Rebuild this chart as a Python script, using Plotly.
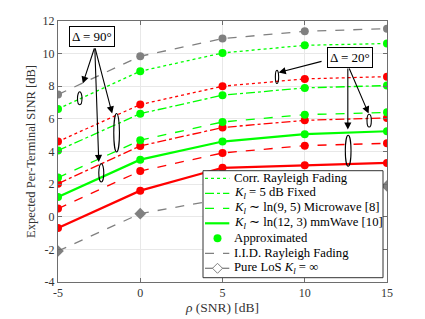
import plotly.graph_objects as go

snr = [-5, 0, 5, 10, 15]

# Delta = 90 deg (green) series
corr90 = [6.61, 8.92, 10.04, 10.51, 10.62]
k5_90 = [4.06, 6.32, 7.45, 7.90, 8.04]
micro90 = [2.40, 4.69, 5.81, 6.26, 6.40]
mmw90 = [1.21, 3.50, 4.61, 5.06, 5.24]

# Delta = 20 deg (red) series
corr20 = [4.61, 6.88, 8.00, 8.45, 8.59]
k5_20 = [2.03, 4.34, 5.47, 5.91, 6.06]
micro20 = [0.50, 2.80, 3.91, 4.36, 4.50]
mmw20 = [-0.69, 1.60, 3.00, 3.16, 3.30]

# reference curves
iid = [7.49, 9.84, 10.92, 11.37, 11.53]
los = [-2.10, 0.19, 1.10, 1.60, 1.89]

names = ["Corr. Rayleigh Fading",
         "<i>K<sub>l</sub></i> = 5 dB Fixed",
         "<i>K<sub>l</sub></i> ∼ ln(9, 5) Microwave [8]",
         "<i>K<sub>l</sub></i> ∼ ln(12, 3) mmWave [10]",
         "Approximated",
         "I.I.D. Rayleigh Fading",
         "Pure LoS <i>K<sub>l</sub></i> = ∞"]

GREEN = "#00ff00"
RED = "#ff0000"
GRAY = "#808080"
FONT = "Liberation Serif"

W, H = 425, 319
ML, MR, MT, MB = 58, 38, 21, 37
PW, PH = W - ML - MR, H - MT - MB


def px(xp):
    return (xp - ML) / PW


def py(yp):
    return (H - MB - yp) / PH


fig = go.Figure()

styles = [("dot", 1.3), ("dashdot", 1.3), ("dash", 1.3), ("solid", 2.2)]
green_series = [corr90, k5_90, micro90, mmw90]
red_series = [corr20, k5_20, micro20, mmw20]

for i, (dash, w) in enumerate(styles):
    fig.add_trace(go.Scatter(x=snr, y=red_series[i], mode="lines",
                             line=dict(color=RED, dash=dash, width=w)))
    fig.add_trace(go.Scatter(x=snr, y=green_series[i], mode="lines",
                             line=dict(color=GREEN, dash=dash, width=w)))

for s in red_series:
    fig.add_trace(go.Scatter(x=snr, y=s, mode="markers",
                             marker=dict(color=RED, size=8)))
for s in green_series:
    fig.add_trace(go.Scatter(x=snr, y=s, mode="markers",
                             marker=dict(color=GREEN, size=8)))

fig.add_trace(go.Scatter(x=snr, y=iid, mode="lines+markers",
                         line=dict(color=GRAY, dash="dash", width=1.3),
                         marker=dict(color=GRAY, size=8)))
fig.add_trace(go.Scatter(x=snr, y=los, mode="lines+markers",
                         line=dict(color=GRAY, dash="dash", width=1.3),
                         marker=dict(color=GRAY, size=9, symbol="diamond")))

# ellipses marking groups
ellipses = [(-3.815, -3.542, 6.865, 7.66),
            (-1.610, -1.264, 3.971, 6.325),
            (-2.521, -2.217, 2.131, 3.259),
            (8.214, 8.414, 8.164, 8.98),
            (12.467, 12.813, 3.094, 4.994),
            (13.785, 14.046, 5.503, 6.282)]
for x0, x1, y0, y1 in ellipses:
    fig.add_shape(type="circle", xref="x", yref="y", x0=x0, x1=x1, y0=y0, y1=y1,
                  line=dict(color="black", width=1.1))

# arrows (head, tail)
arrows = [((-3.493, 8.164), (-2.764, 10.408)),
          ((-1.707, 6.325), (-2.764, 10.408)),
          ((-2.521, 3.357), (-2.764, 10.408)),
          ((8.414, 8.839), (11.112, 9.55)),
          ((12.618, 5.344), (12.618, 9.182)),
          ((13.882, 6.325), (12.667, 9.182))]
for (hx, hy), (tx, ty) in arrows:
    fig.add_annotation(x=hx, y=hy, ax=tx, ay=ty, xref="x", yref="y",
                       axref="x", ayref="y", text="", showarrow=True,
                       arrowhead=2, arrowsize=1.3, arrowwidth=1.1,
                       arrowcolor="black", standoff=0, startstandoff=0)

fig.add_annotation(x=-2.904, y=11.06, xref="x", yref="y", text="Δ = 90°",
                   showarrow=False, bgcolor="white", bordercolor="black",
                   borderwidth=1, borderpad=2,
                   font=dict(family=FONT, size=13, color="black"))
fig.add_annotation(x=12.75, y=9.75, xref="x", yref="y", text="Δ = 20°",
                   showarrow=False, bgcolor="white", bordercolor="black",
                   borderwidth=1, borderpad=2,
                   font=dict(family=FONT, size=13, color="black"))

# ---- manual legend (compact, MATLAB-like) ----
LX0, LX1, LY0, LY1 = 203, 383, 170.7, 277.7
fig.add_shape(type="rect", xref="paper", yref="paper", layer="above",
              x0=px(LX0), x1=px(LX1), y0=py(LY1), y1=py(LY0),
              fillcolor="white", line=dict(color="#333333", width=1))
row0, dy = 178.3, 15.0
sx0, sx1, tx0, mx = 205, 229.3, 231.7, 217.5
leg_lines = [(GREEN, "dot", 1.3), (GREEN, "dashdot", 1.3), (GREEN, "dash", 1.3),
             (GREEN, "solid", 2.2), None, (GRAY, "dash", 1.3), (GRAY, "solid", 1.3)]
for i, name in enumerate(names):
    yc = row0 + dy * i
    spec = leg_lines[i]
    if spec is not None:
        c, d, w = spec
        fig.add_shape(type="line", xref="paper", yref="paper", layer="above",
                      x0=px(sx0), x1=px(sx1), y0=py(yc), y1=py(yc),
                      line=dict(color=c, dash=d, width=w))
    if i == 4:
        r = 4
        fig.add_shape(type="circle", xref="paper", yref="paper", layer="above",
                      x0=px(mx - r), x1=px(mx + r), y0=py(yc + r), y1=py(yc - r),
                      fillcolor=GREEN, line=dict(color=GREEN, width=0))
    if i == 6:
        r = 5
        path = (f"M {px(mx - r)},{py(yc)} L {px(mx)},{py(yc - r)} "
                f"L {px(mx + r)},{py(yc)} L {px(mx)},{py(yc + r)} Z")
        fig.add_shape(type="path", xref="paper", yref="paper", layer="above",
                      path=path, fillcolor="white", line=dict(color=GRAY, width=1))
    fig.add_annotation(x=px(tx0), y=py(yc), xref="paper", yref="paper",
                       xanchor="left", yanchor="middle", text=name, showarrow=False,
                       font=dict(family=FONT, size=12.7, color="black"))

xt = [-5, 0, 5, 10, 15]
yt = [-4, -2, 0, 2, 4, 6, 8, 10, 12]

axis_common = dict(showline=True, linecolor="#6e6e6e", linewidth=1, mirror="ticks",
                   ticks="inside", ticklen=4, tickcolor="#6e6e6e", automargin=False,
                   showgrid=True, gridcolor="#e8e8e8", gridwidth=1, zeroline=False,
                   tickfont=dict(family=FONT, size=12, color="#333333"))

fig.update_xaxes(range=[-5, 15], tickvals=xt, ticktext=[str(v) for v in xt],
                 title=dict(text="<i>ρ</i> (SNR) [dB]", standoff=2,
                            font=dict(family=FONT, size=13.5, color="#333333")),
                 **axis_common)
fig.update_yaxes(range=[-4, 12], tickvals=yt, ticktext=[str(v) for v in yt],
                 title=dict(text="Expected Per-Terminal SINR [dB]", standoff=4,
                            font=dict(family=FONT, size=12.5, color="#333333")),
                 **axis_common)

fig.update_layout(width=W, height=H, margin=dict(l=ML, r=MR, t=MT, b=MB),
                  paper_bgcolor="white", plot_bgcolor="white", showlegend=False)

fig.write_html("out.html", config={"displayModeBar": False},
               post_script="document.body.style.margin='0px';")
